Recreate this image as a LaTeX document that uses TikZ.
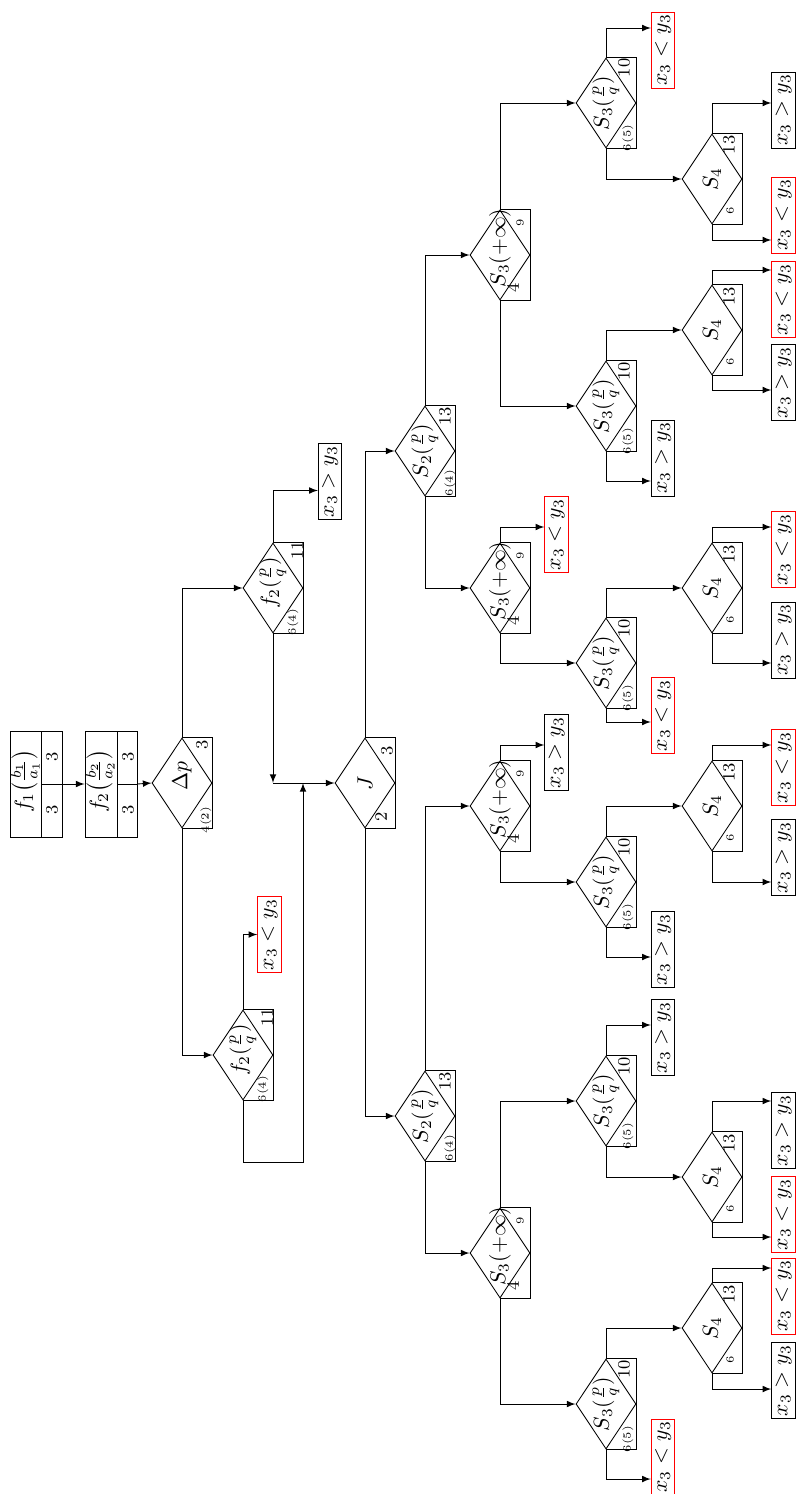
\documentclass[tikz,border=0pt]{standalone}
\usepackage{amsmath}
\usepackage{amssymb}
\usepackage{tikz}
\usetikzlibrary{shapes.geometric,calc}

\begin{document}
\begin{tikzpicture}[x=0.46pt,y=-0.46pt,>=latex,
    dec/.style={diamond,draw,inner sep=0pt,minimum width=27.6pt,minimum height=41.4pt},
    rot/.style={rotate=90,inner sep=0pt},
    num/.style={rot,font=\footnotesize},
    sub/.style={rot,font=\tiny},
    leaf/.style={draw,rotate=90,inner sep=1pt,minimum width=34.5pt,minimum height=10.8pt},
    leafr/.style={leaf,draw=red}]
    \useasboundingbox (0,0) rectangle (795,1494);

    % start boxes
    \node[draw,inner sep=0pt,minimum width=23.9pt,minimum height=48.8pt] (f1) at (36,784) {};
    \draw (41,731)--(41,837);
    \draw (41,784)--(f1.east);
    \node[rot] (f1t) at (25,781) {$f_1\bigl(\frac{b_1}{a_1}\bigr)$};
    \node[num] (f1a) at (52,757) {3};
    \node[num] (f1b) at (52,810) {3};
    \node[draw,inner sep=0pt,minimum width=23.9pt,minimum height=48.8pt] (f2) at (111,784) {};
    \draw (117,731)--(117,837);
    \draw (117,784)--(f2.east);
    \node[rot] (f2t) at (100,781) {$f_2\bigl(\frac{b_2}{a_2}\bigr)$};
    \node[num] (f2a) at (128,757) {3};
    \node[num] (f2b) at (128,810) {3};
    \draw[->] (f1.east)--(f2.west);

    % level 1
    \node[dec] (D) at (182,783) {};
    \draw (D.north) -| (D.east) |- (D.south);
    \node[rot] (Dt) at ($(D)+(0,-7)$) {$\Delta p$};
    \node[num] (D1) at ($(D)+(20,-38)$) {3};
    \node[sub] (D2) at ($(D)+(24,37)$) {4(2)};
    \draw[->] (f2.east)--(D.west);

    % level 2
    \node[dec] (F1) at (273,588) {};
    \draw (F1.north) -| (F1.east) |- (F1.south);
    \node[rot] (F1t) at ($(F1)+(0,-5)$) {$f_2(\frac{p}{q})$};
    \node[num] (F11) at ($(F1)+(24,-38)$) {11};
    \node[sub] (F12) at ($(F1)+(20,34)$) {6(4)};
    \node[dec] (F2) at (243,1055) {};
    \draw (F2.north) -| (F2.east) |- (F2.south);
    \node[rot] (F2t) at ($(F2)+(0,-5)$) {$f_2(\frac{p}{q})$};
    \node[num] (F21) at ($(F2)+(24,-38)$) {11};
    \node[sub] (F22) at ($(F2)+(20,34)$) {6(4)};
    \draw[->] (D.north) |- (F1.west);
    \draw[->] (D.south) |- (F2.west);
    \node[leaf] (L1) at (330,481.5) {$x_3>y_3$};
    \node[leafr] (L2) at (269.5,934.5) {$x_3<y_3$};
    \draw[->] (F1.north) |- ($(L1.north)+(0,9)$);
    \draw[->] (F2.north) |- (L2.north);

    % level 3
    \node[dec] (J) at (365,783) {};
    \draw (J.north) -| (J.east) |- (J.south);
    \node[rot] (Jt) at (J) {$J$};
    \node[num] (J1) at ($(J)+(22,-32)$) {3};
    \node[num] (J2) at ($(J)+(16,34)$) {2};
    \coordinate (in1) at (273,783);
    \coordinate (in2) at (303,783);
    \draw[->] (F1.south)--(in1);
    \draw[->] (F2.south)--++(0,62) -| (in2);
    \draw[->] (in1)--(J.west);

    % level 4
    \node[dec] (S1) at (425,451) {};
    \draw (S1.north) -| (S1.east) |- (S1.south);
    \node[rot] (S1t) at (S1) {$S_2(\frac{p}{q})$};
    \node[num] (S11) at ($(S1)+(20,-35)$) {13};
    \node[sub] (S12) at ($(S1)+(25,32)$) {6(4)};
    \node[dec] (S2) at (425,1116) {};
    \draw (S2.north) -| (S2.east) |- (S2.south);
    \node[rot] (S2t) at (S2) {$S_2(\frac{p}{q})$};
    \node[num] (S21) at ($(S2)+(20,-35)$) {13};
    \node[sub] (S22) at ($(S2)+(25,32)$) {6(4)};
    \draw[->] (J.north) |- (S1.west);
    \draw[->] (J.south) |- (S2.west);

    % level 5
    \node[dec] (T1) at (500,255) {};
    \node[dec] (T2) at (500,588) {};
    \node[dec] (T3) at (500,806) {};
    \node[dec] (T4) at (500,1253) {};
    \draw (T1.north) -| (T1.east) |- (T1.south);
    \draw (T2.north) -| (T2.east) |- (T2.south);
    \draw (T3.north) -| (T3.east) |- (T3.south);
    \draw (T4.north) -| (T4.east) |- (T4.south);
    \node[rot] (T1t) at ($(T1)+(0,-7)$) {$S_3(+\infty)$};
    \node[rot] (T2t) at ($(T2)+(0,-7)$) {$S_3(+\infty)$};
    \node[rot] (T3t) at ($(T3)+(0,-7)$) {$S_3(+\infty)$};
    \node[rot] (T4t) at ($(T4)+(0,-7)$) {$S_3(+\infty)$};
    \node[sub] (T11) at ($(T1)+(20,-32)$) {9};
    \node[sub] (T21) at ($(T2)+(20,-32)$) {9};
    \node[sub] (T31) at ($(T3)+(20,-32)$) {9};
    \node[sub] (T41) at ($(T4)+(20,-32)$) {9};
    \node[num] (T12) at ($(T1)+(13,33)$) {4};
    \node[num] (T22) at ($(T2)+(13,33)$) {4};
    \node[num] (T32) at ($(T3)+(13,33)$) {4};
    \node[num] (T42) at ($(T4)+(13,33)$) {4};
    \draw[->] (S1.north) |- (T1.west);
    \draw[->] (S1.south) |- (T2.west);
    \draw[->] (S2.north) |- (T3.west);
    \draw[->] (S2.south) |- (T4.west);
    \node[leafr] (G1) at (556.5,534.5) {$x_3<y_3$};
    \node[leaf] (G2) at (556.5,752.5) {$x_3>y_3$};
    \draw[->] (T2.north) |- ($(G1.north)+(0,-7.5)$);
    \draw[->] (T3.north) |- ($(G2.north)+(0,-7.5)$);

    % level 6
    \node[dec] (U1) at (606,103) {};
    \node[dec] (U2) at (606,406) {};
    \node[dec] (U3) at (606,663) {};
    \node[dec] (U4) at (606,882) {};
    \node[dec] (U5) at (606,1101) {};
    \node[dec] (U6) at (606,1404) {};
    \draw (U1.north) -| (U1.east) |- (U1.south);
    \draw (U2.north) -| (U2.east) |- (U2.south);
    \draw (U3.north) -| (U3.east) |- (U3.south);
    \draw (U4.north) -| (U4.east) |- (U4.south);
    \draw (U5.north) -| (U5.east) |- (U5.south);
    \draw (U6.north) -| (U6.east) |- (U6.south);
    \node[rot] (U1t) at (U1) {$S_3(\frac{p}{q})$};
    \node[rot] (U2t) at (U2) {$S_3(\frac{p}{q})$};
    \node[rot] (U3t) at (U3) {$S_3(\frac{p}{q})$};
    \node[rot] (U4t) at (U4) {$S_3(\frac{p}{q})$};
    \node[rot] (U5t) at (U5) {$S_3(\frac{p}{q})$};
    \node[rot] (U6t) at (U6) {$S_3(\frac{p}{q})$};
    \node[num] (U11) at ($(U1)+(18,-35)$) {10};
    \node[num] (U21) at ($(U2)+(18,-35)$) {10};
    \node[num] (U31) at ($(U3)+(18,-35)$) {10};
    \node[num] (U41) at ($(U4)+(18,-35)$) {10};
    \node[num] (U51) at ($(U5)+(18,-35)$) {10};
    \node[num] (U61) at ($(U6)+(18,-35)$) {10};
    \node[sub] (U12) at ($(U1)+(22,35)$) {6(5)};
    \node[sub] (U22) at ($(U2)+(22,35)$) {6(5)};
    \node[sub] (U32) at ($(U3)+(22,35)$) {6(5)};
    \node[sub] (U42) at ($(U4)+(22,35)$) {6(5)};
    \node[sub] (U52) at ($(U5)+(22,35)$) {6(5)};
    \node[sub] (U62) at ($(U6)+(22,35)$) {6(5)};
    \draw[->] (T1.north) |- (U1.west);
    \draw[->] (T1.south) |- (U2.west);
    \draw[->] (T2.south) |- (U3.west);
    \draw[->] (T3.south) |- (U4.west);
    \draw[->] (T4.north) |- (U5.west);
    \draw[->] (T4.south) |- (U6.west);
    \node[leafr] (H1) at (663,50) {$x_3<y_3$};
    \node[leaf] (H2) at (663,458) {$x_3>y_3$};
    \node[leafr] (H3) at (663,715.5) {$x_3<y_3$};
    \node[leaf] (H4) at (663,949.5) {$x_3>y_3$};
    \node[leaf] (H5) at (663,1037.5) {$x_3>y_3$};
    \node[leafr] (H6) at (663,1457) {$x_3<y_3$};
    \draw[->] (U1.north) |- ($(H1.north)+(0,-22)$);
    \draw[->] (U2.south) |- ($(H2.north)+(0,23)$);
    \draw[->] (U3.south) |- ($(H3.north)+(0,6.5)$);
    \draw[->] (U4.south) |- ($(H4.north)+(0,7.5)$);
    \draw[->] (U5.north) |- ($(H5.north)+(0,-12.5)$);
    \draw[->] (U6.south) |- ($(H6.north)+(0,22)$);

    % level 7
    \node[dec] (V1) at (712,179) {};
    \node[dec] (V2) at (712,330) {};
    \node[dec] (V3) at (712,588) {};
    \node[dec] (V4) at (712,806) {};
    \node[dec] (V5) at (712,1177) {};
    \node[dec] (V6) at (712,1328) {};
    \draw (V1.north) -| (V1.east) |- (V1.south);
    \draw (V2.north) -| (V2.east) |- (V2.south);
    \draw (V3.north) -| (V3.east) |- (V3.south);
    \draw (V4.north) -| (V4.east) |- (V4.south);
    \draw (V5.north) -| (V5.east) |- (V5.south);
    \draw (V6.north) -| (V6.east) |- (V6.south);
    \node[rot] (V1t) at (V1) {$S_4$};
    \node[rot] (V2t) at (V2) {$S_4$};
    \node[rot] (V3t) at (V3) {$S_4$};
    \node[rot] (V4t) at (V4) {$S_4$};
    \node[rot] (V5t) at (V5) {$S_4$};
    \node[rot] (V6t) at (V6) {$S_4$};
    \node[num] (V11) at ($(V1)+(17,-34)$) {13};
    \node[num] (V21) at ($(V2)+(17,-34)$) {13};
    \node[num] (V31) at ($(V3)+(17,-34)$) {13};
    \node[num] (V41) at ($(V4)+(17,-34)$) {13};
    \node[num] (V51) at ($(V5)+(17,-34)$) {13};
    \node[num] (V61) at ($(V6)+(17,-34)$) {13};
    \node[sub] (V12) at ($(V1)+(18,32)$) {6};
    \node[sub] (V22) at ($(V2)+(18,32)$) {6};
    \node[sub] (V32) at ($(V3)+(18,32)$) {6};
    \node[sub] (V42) at ($(V4)+(18,32)$) {6};
    \node[sub] (V52) at ($(V5)+(18,32)$) {6};
    \node[sub] (V62) at ($(V6)+(18,32)$) {6};
    \draw[->] (U1.south) |- (V1.west);
    \draw[->] (U2.north) |- (V2.west);
    \draw[->] (U3.north) |- (V3.west);
    \draw[->] (U4.north) |- (V4.west);
    \draw[->] (U5.south) |- (V5.west);
    \draw[->] (U6.north) |- (V6.west);
    \node[leaf] (R1) at (783.5,110) {$x_3>y_3$};
    \node[leafr] (R2) at (783.5,215) {$x_3<y_3$};
    \node[leafr] (R3) at (783.5,299.5) {$x_3<y_3$};
    \node[leaf] (R4) at (783.5,382.5) {$x_3>y_3$};
    \node[leafr] (R5) at (783.5,549.5) {$x_3<y_3$};
    \node[leaf] (R6) at (783.5,640) {$x_3>y_3$};
    \node[leafr] (R7) at (783.5,767.5) {$x_3<y_3$};
    \node[leaf] (R8) at (783.5,857.5) {$x_3>y_3$};
    \node[leaf] (R9) at (783.5,1130.5) {$x_3>y_3$};
    \node[leafr] (R10) at (783.5,1214.5) {$x_3<y_3$};
    \node[leafr] (R11) at (783.5,1296) {$x_3<y_3$};
    \node[leaf] (R12) at (783.5,1380.5) {$x_3>y_3$};
    \draw[->] (V1.north) |- ($(R1.north)+(0,-7)$);
    \draw[->] (V1.south) |- ($(R2.north)+(0,25)$);
    \draw[->] (V2.north) |- ($(R3.north)+(0,-29.5)$);
    \draw[->] (V2.south) |- ($(R4.north)+(0,7.5)$);
    \draw[->] (V3.north) |- ($(R5.north)+(0,-22.5)$);
    \draw[->] (V3.south) |- ($(R6.north)+(0,23)$);
    \draw[->] (V4.north) |- ($(R7.north)+(0,-22.5)$);
    \draw[->] (V4.south) |- ($(R8.north)+(0,24.5)$);
    \draw[->] (V5.north) |- ($(R9.north)+(0,-29.5)$);
    \draw[->] (V5.south) |- ($(R10.north)+(0,22.5)$);
    \draw[->] (V6.north) |- ($(R11.north)+(0,-28)$);
    \draw[->] (V6.south) |- ($(R12.north)+(0,8.5)$);
\end{tikzpicture}
\end{document}
